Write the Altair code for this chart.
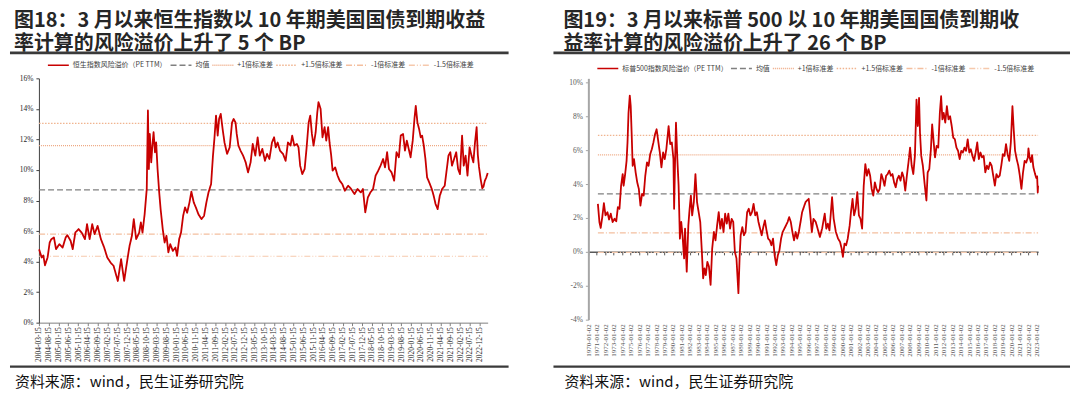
import altair as alt
import pandas as pd

# ---------------- text ----------------
HK_TITLE = ["图18：3 月以来恒生指数以 10 年期美国国债到期收益", "率计算的风险溢价上升了 5 个 BP"]
SPX_TITLE = ["图19：3 月以来标普 500 以 10 年期美国国债到期收", "益率计算的风险溢价上升了 26 个 BP"]
SOURCE = "资料来源：wind，民生证券研究院"
HK_NAME = "恒生指数风险溢价（PE TTM）"
SPX_NAME = "标普500指数风险溢价（PE TTM）"
REF_NAMES = ["均值", "+1倍标准差", "+1.5倍标准差", "-1倍标准差", "-1.5倍标准差"]

# ---------------- reference levels (%) ----------------
HK_REF = [8.7, 11.6, 13.05, 5.8, 4.35]
SPX_REF = [3.42, 5.72, 6.87, 1.12, -0.03]

# ---------------- tick labels ----------------
HK_YTICKS = [0, 2, 4, 6, 8, 10, 12, 14, 16]
SPX_YTICKS = [-4, -2, 0, 2, 4, 6, 8, 10]
HK_XTICKS = [(2004 + (2 + 5 * k) // 12, (2 + 5 * k) % 12 + 1, 15) for k in range(46)]
SPX_XTICKS = [(y, 1, 2) for y in range(1970, 2024)]

# ---------------- series (decimal year, %) ----------------
HK_POINTS = [
    (2004.21, 4.8), (2004.32, 4.27), (2004.39, 4.4), (2004.46, 3.76), (2004.57, 4.27), (2004.66, 5.25),
    (2004.73, 5.47), (2004.84, 5.58), (2004.93, 4.81), (2005.07, 5.14), (2005.21, 4.92), (2005.34, 5.58),
    (2005.41, 5.73), (2005.55, 5.36), (2005.64, 4.81), (2005.75, 5.9), (2005.89, 6.13), (2006.02, 5.9),
    (2006.16, 5.47), (2006.25, 6.45), (2006.36, 5.47), (2006.47, 6.45), (2006.57, 5.8), (2006.70, 6.34),
    (2006.84, 5.47), (2006.98, 4.92), (2007.11, 4.27), (2007.25, 3.94), (2007.38, 3.72), (2007.56, 2.73),
    (2007.70, 4.16), (2007.83, 2.73), (2007.97, 4.16), (2008.06, 5.03), (2008.16, 5.69), (2008.24, 6.78),
    (2008.34, 5.47), (2008.47, 5.9), (2008.54, 6.56), (2008.61, 5.9), (2008.70, 7.1), (2008.79, 8.75),
    (2008.84, 13.9), (2008.88, 10.06), (2008.92, 12.36), (2008.98, 10.5), (2009.03, 11.6), (2009.08, 12.47),
    (2009.14, 11.16), (2009.19, 11.8), (2009.25, 10.06), (2009.32, 8.53), (2009.38, 7.44), (2009.47, 6.13),
    (2009.55, 5.25), (2009.63, 5.69), (2009.71, 4.6), (2009.79, 5.14), (2009.90, 4.7), (2010.01, 4.92),
    (2010.08, 4.375), (2010.17, 5.47), (2010.25, 5.9), (2010.34, 7.0), (2010.42, 7.55), (2010.51, 7.2),
    (2010.61, 7.88), (2010.69, 8.58), (2010.79, 7.88), (2010.88, 7.55), (2010.99, 7.1), (2011.12, 6.78),
    (2011.23, 7.0), (2011.33, 7.88), (2011.42, 8.53), (2011.53, 9.08), (2011.61, 10.94), (2011.67, 12.03),
    (2011.74, 13.56), (2011.81, 12.25), (2011.87, 13.34), (2011.94, 13.67), (2012.02, 12.69), (2012.10, 11.8),
    (2012.21, 11.05), (2012.32, 11.48), (2012.42, 13.1), (2012.49, 13.34), (2012.57, 13.1), (2012.62, 12.36),
    (2012.69, 11.6), (2012.78, 11.27), (2012.89, 10.94), (2013.00, 10.5), (2013.10, 9.84), (2013.21, 10.5),
    (2013.30, 11.7), (2013.41, 10.94), (2013.51, 12.14), (2013.60, 10.94), (2013.71, 11.38), (2013.82, 10.6),
    (2013.91, 11.05), (2014.01, 10.72), (2014.12, 11.8), (2014.21, 12.14), (2014.28, 11.48), (2014.36, 11.8),
    (2014.46, 11.27), (2014.59, 11.05), (2014.70, 10.6), (2014.80, 11.8), (2014.91, 11.6), (2014.98, 12.25),
    (2015.07, 11.6), (2015.18, 11.7), (2015.25, 11.48), (2015.32, 10.28), (2015.41, 9.73), (2015.51, 10.06),
    (2015.59, 11.38), (2015.68, 13.1), (2015.75, 13.56), (2015.82, 12.36), (2015.89, 11.6), (2015.98, 12.47),
    (2016.05, 13.78), (2016.10, 14.44), (2016.19, 14.0), (2016.27, 12.14), (2016.36, 12.8), (2016.43, 11.92),
    (2016.51, 12.8), (2016.57, 11.8), (2016.64, 10.94), (2016.70, 9.95), (2016.81, 10.17), (2016.91, 9.63),
    (2017.00, 9.3), (2017.11, 9.08), (2017.22, 8.64), (2017.36, 8.97), (2017.49, 8.75), (2017.63, 8.42),
    (2017.76, 8.75), (2017.90, 8.53), (2017.99, 8.75), (2018.09, 7.22), (2018.20, 8.2), (2018.31, 8.53),
    (2018.42, 8.75), (2018.53, 9.63), (2018.64, 9.95), (2018.74, 10.28), (2018.85, 10.72), (2018.93, 10.17),
    (2019.02, 11.16), (2019.10, 10.06), (2019.21, 9.84), (2019.32, 9.3), (2019.42, 11.16), (2019.52, 10.83),
    (2019.60, 12.25), (2019.70, 12.36), (2019.78, 11.27), (2019.86, 11.92), (2019.94, 11.38), (2020.02, 10.83),
    (2020.11, 11.92), (2020.19, 13.45), (2020.24, 14.2), (2020.31, 13.1), (2020.38, 12.69), (2020.45, 12.14),
    (2020.51, 12.25), (2020.58, 11.6), (2020.65, 10.72), (2020.72, 9.52), (2020.81, 9.19), (2020.92, 8.75),
    (2021.00, 8.31), (2021.08, 7.77), (2021.17, 7.44), (2021.26, 8.31), (2021.36, 8.75), (2021.47, 8.97),
    (2021.55, 9.95), (2021.63, 10.94), (2021.71, 11.16), (2021.78, 10.28), (2021.87, 10.72), (2021.96, 11.16),
    (2022.04, 10.06), (2022.12, 9.73), (2022.21, 12.25), (2022.28, 10.28), (2022.36, 10.94), (2022.44, 9.63),
    (2022.53, 11.48), (2022.61, 10.94), (2022.69, 10.5), (2022.76, 11.8), (2022.83, 12.8), (2022.88, 11.0),
    (2022.93, 10.2), (2023.00, 9.4), (2023.07, 8.8), (2023.12, 8.9), (2023.18, 9.3), (2023.24, 9.5),
    (2023.30, 9.8),
]

SPX_POINTS = [
    (1971.13, 2.83), (1971.31, 1.76), (1971.46, 1.41), (1971.65, 2.05), (1971.84, 2.87), (1972.03, 2.15),
    (1972.26, 2.34), (1972.45, 1.91), (1972.65, 2.25), (1972.87, 1.76), (1973.10, 1.95), (1973.30, 1.8),
    (1973.49, 2.64), (1973.68, 2.54), (1973.87, 3.9), (1974.06, 4.59), (1974.17, 3.9), (1974.33, 4.49),
    (1974.52, 5.37), (1974.63, 6.45), (1974.75, 8.2), (1974.90, 9.22), (1975.01, 8.59), (1975.13, 6.84),
    (1975.24, 5.08), (1975.40, 5.47), (1975.59, 4.69), (1975.78, 4.1), (1975.97, 3.71), (1976.16, 2.73),
    (1976.35, 3.42), (1976.54, 3.32), (1976.73, 4.49), (1976.93, 5.27), (1977.12, 5.08), (1977.31, 5.76),
    (1977.50, 6.05), (1977.69, 6.45), (1977.88, 6.93), (1978.07, 7.23), (1978.26, 6.54), (1978.45, 5.86),
    (1978.64, 4.98), (1978.84, 5.86), (1979.03, 5.47), (1979.22, 6.05), (1979.49, 7.42), (1979.68, 6.35),
    (1979.87, 6.45), (1980.06, 5.47), (1980.14, 2.54), (1980.25, 5.27), (1980.36, 7.62), (1980.52, 5.47),
    (1980.67, 3.9), (1980.82, 0.78), (1980.98, 1.76), (1981.13, 0.98), (1981.32, -0.39), (1981.43, 1.37),
    (1981.63, -1.17), (1981.82, 1.56), (1981.97, 2.54), (1982.12, 3.32), (1982.27, 2.15), (1982.47, 2.93),
    (1982.66, 4.59), (1982.85, 2.93), (1983.04, 2.34), (1983.23, 1.76), (1983.42, 0.0), (1983.57, -1.56),
    (1983.73, -0.98), (1983.88, -1.37), (1984.07, -0.59), (1984.26, -0.88), (1984.45, -1.95), (1984.64, 0.2),
    (1984.84, 1.17), (1985.03, 0.68), (1985.22, 1.56), (1985.41, 2.34), (1985.60, 1.37), (1985.79, 1.95),
    (1985.98, 1.17), (1986.17, 2.25), (1986.36, 1.66), (1986.55, 2.25), (1986.75, 1.37), (1986.94, 1.95),
    (1987.13, 1.76), (1987.32, 0.0), (1987.51, -0.39), (1987.62, -1.37), (1987.74, -2.44), (1987.89, -0.2),
    (1988.01, 0.98), (1988.20, 1.46), (1988.39, 0.98), (1988.58, 1.17), (1988.77, 2.34), (1988.96, 2.54),
    (1989.15, 2.15), (1989.34, 2.34), (1989.53, 2.83), (1989.73, 2.15), (1989.92, 2.34), (1990.11, 1.76),
    (1990.30, 1.37), (1990.49, 0.98), (1990.68, 1.46), (1990.87, 1.86), (1991.06, 1.27), (1991.25, 0.78),
    (1991.45, 0.68), (1991.64, 0.39), (1991.83, 0.78), (1992.02, -0.2), (1992.21, -0.78), (1992.40, -0.2),
    (1992.59, 0.1), (1992.78, 0.78), (1992.97, 1.17), (1993.17, 1.37), (1993.36, 1.56), (1993.55, 1.76),
    (1993.74, 2.05), (1993.93, 1.76), (1994.12, 1.17), (1994.31, 0.68), (1994.50, 1.17), (1994.69, 0.78),
    (1994.88, 1.17), (1995.08, 1.76), (1995.27, 2.34), (1995.67, 2.93), (1996.05, 3.13), (1996.24, 2.15),
    (1996.42, 1.17), (1996.61, 1.95), (1996.88, 1.76), (1997.10, 1.37), (1997.37, 0.88), (1997.63, 1.37),
    (1997.94, 2.25), (1998.13, 1.37), (1998.31, 1.66), (1998.50, 1.27), (1998.81, 3.22), (1999.00, 1.95),
    (1999.26, 1.17), (1999.52, 0.78), (1999.75, 0.59), (1999.94, 0.2), (2000.09, -0.29), (2000.28, 0.49),
    (2000.47, 0.39), (2000.66, 0.78), (2000.89, 1.56), (2001.04, 2.34), (2001.23, 3.13), (2001.41, 2.15),
    (2001.60, 2.54), (2001.79, 3.52), (2001.98, 2.15), (2002.17, 1.95), (2002.36, 1.37), (2002.55, 3.9),
    (2002.74, 5.18), (2002.93, 4.49), (2003.12, 4.88), (2003.31, 4.49), (2003.49, 3.71), (2003.68, 3.32),
    (2003.87, 4.1), (2004.06, 3.71), (2004.25, 3.52), (2004.44, 3.71), (2004.63, 4.59), (2004.82, 4.3),
    (2005.01, 3.9), (2005.20, 4.49), (2005.38, 4.59), (2005.57, 4.79), (2005.76, 4.49), (2005.95, 4.59),
    (2006.14, 4.1), (2006.33, 3.81), (2006.52, 4.3), (2006.71, 4.49), (2006.90, 4.2), (2007.09, 4.69),
    (2007.27, 4.39), (2007.46, 3.61), (2007.65, 4.49), (2007.84, 5.27), (2008.03, 6.15), (2008.22, 5.08),
    (2008.41, 4.59), (2008.60, 5.66), (2008.79, 8.98), (2008.94, 7.42), (2009.09, 9.08), (2009.20, 7.03),
    (2009.35, 5.66), (2009.54, 5.08), (2009.73, 4.1), (2009.96, 3.03), (2010.11, 4.69), (2010.30, 4.88),
    (2010.49, 6.05), (2010.64, 7.52), (2010.79, 6.64), (2010.98, 5.57), (2011.17, 6.25), (2011.36, 6.15),
    (2011.55, 8.2), (2011.70, 9.18), (2011.85, 7.81), (2012.00, 8.2), (2012.19, 7.62), (2012.38, 8.59),
    (2012.57, 7.81), (2012.76, 8.0), (2012.95, 7.42), (2013.13, 6.74), (2013.32, 6.64), (2013.51, 6.15),
    (2013.70, 5.96), (2013.89, 5.47), (2014.08, 5.96), (2014.27, 5.86), (2014.46, 6.15), (2014.65, 5.96),
    (2014.84, 6.64), (2015.03, 5.86), (2015.21, 6.05), (2015.40, 5.66), (2015.59, 5.37), (2015.78, 5.86),
    (2015.97, 6.45), (2016.16, 5.47), (2016.35, 5.86), (2016.54, 5.57), (2016.73, 5.66), (2016.92, 4.69),
    (2017.11, 5.08), (2017.29, 4.88), (2017.48, 5.27), (2017.67, 5.08), (2017.86, 4.49), (2018.05, 3.91),
    (2018.24, 4.59), (2018.43, 4.39), (2018.62, 4.49), (2018.81, 5.08), (2019.00, 5.76), (2019.19, 5.66),
    (2019.37, 6.35), (2019.56, 5.76), (2019.75, 5.37), (2019.94, 6.45), (2020.13, 8.59), (2020.29, 7.13),
    (2020.44, 5.96), (2020.63, 5.47), (2020.82, 5.08), (2021.00, 4.49), (2021.19, 3.71), (2021.38, 4.69),
    (2021.57, 5.37), (2021.76, 5.27), (2021.95, 5.57), (2022.02, 6.1), (2022.15, 5.6), (2022.30, 5.3),
    (2022.45, 5.7), (2022.60, 5.0), (2022.80, 4.6), (2022.95, 4.35), (2023.05, 4.45), (2023.12, 3.5),
    (2023.16, 3.9),
]

# ---------------- styles ----------------
CJK = "Noto Sans CJK SC"
SERIF = "Liberation Serif"
SERIES_COLOR = "#c80000"
REF_COLORS = ["#808080", "#eea882", "#f0b48f", "#f4bf9f", "#f6c9ad"]
REF_DASHES = [[6, 3], [1, 1], [1.5, 1.5], [6, 2, 1, 2], [6, 2, 1, 2, 1, 2]]


def to_date(y):
    yr = int(y)
    a = pd.Timestamp(year=yr, month=1, day=1)
    b = pd.Timestamp(year=yr + 1, month=1, day=1)
    return a + (b - a) * (y - yr)


def dt(t):
    return alt.DateTime(year=t[0], month=t[1], date=t[2])


ONE = pd.DataFrame({"k": [0]})


def text_layer(txt, x, y, size, weight="normal", color="#1a1a1a"):
    return alt.Chart(ONE).mark_text(
        align="left", baseline="alphabetic", font=CJK, fontSize=size,
        fontWeight=weight, color=color
    ).encode(x=alt.value(x), y=alt.value(y), text=alt.value(txt))


def hrule(x1, x2, y, w, color="#3a3a3a"):
    return alt.Chart(ONE).mark_rule(color=color, strokeWidth=w).encode(
        x=alt.value(x1), x2=alt.value(x2), y=alt.value(y))


def panel(points, name, ref_vals, x_dom, y_dom, width, height, x_axis, y_axis,
          legend_x, legend_y, titles, rule_x1, rule_x2, text_x, frame=False):
    df = pd.DataFrame(points, columns=["yr", "value"])
    df["date"] = df["yr"].map(to_date)
    df["name"] = name
    refs = pd.DataFrame({"name": REF_NAMES, "value": ref_vals})
    refs["start"] = df["date"].iloc[0]
    refs["end"] = df["date"].iloc[-1]

    domain = [name] + REF_NAMES
    legend = alt.Legend(
        title=None, orient="none", legendX=legend_x, legendY=legend_y,
        direction="horizontal", symbolType="stroke", symbolSize=441,
        symbolStrokeWidth=1.5, labelFont=CJK, labelFontSize=7, labelColor="#404040",
        columnPadding=0, labelOffset=3, padding=0, labelLimit=300,
    )
    color = alt.Color("name:N", scale=alt.Scale(domain=domain, range=[SERIES_COLOR] + REF_COLORS),
                      legend=legend)
    dash = alt.StrokeDash("name:N", scale=alt.Scale(domain=domain, range=[[1, 0]] + REF_DASHES),
                          legend=legend)
    xscale = alt.Scale(domain=[dt(x_dom[0]), dt(x_dom[1])])
    yscale = alt.Scale(domain=y_dom, nice=False, zero=False)

    rules = alt.Chart(refs).mark_rule(strokeWidth=1.2).encode(
        x=alt.X("start:T", scale=xscale, axis=x_axis),
        x2="end:T",
        y=alt.Y("value:Q", scale=yscale, axis=y_axis),
        color=color, strokeDash=dash,
    )
    line = alt.Chart(df).mark_line(strokeWidth=1.8, strokeJoin="round").encode(
        x=alt.X("date:T", scale=xscale, axis=x_axis),
        y=alt.Y("value:Q", scale=yscale, axis=y_axis),
        color=color, strokeDash=dash,
    )
    layers = []
    if frame:
        layers.append(alt.Chart(ONE).mark_rect(opacity=0).encode(
            x=alt.value(-29), x2=alt.value(1035), y=alt.value(-69), y2=alt.value(306)))
    layers += [
        rules, line,
        text_layer(titles[0], text_x, -51.5, 20, "bold", "#262626"),
        text_layer(titles[1], text_x, -28.5, 20, "bold", "#262626"),
        hrule(rule_x1, rule_x2, -25.5, 2.6),
        hrule(rule_x1, rule_x2, 289, 2.2),
        text_layer(SOURCE, text_x + 1, 310, 15, "normal", "#111111"),
    ]
    return alt.layer(*layers).properties(width=width, height=height)


hk_x_axis = alt.Axis(
    values=[dt(t) for t in HK_XTICKS], format="%Y-%m-%d", labelAngle=-90,
    labelFont=SERIF, labelFontSize=7.5, labelColor="#262626", labelPadding=1,
    labelOverlap=False, labelFlush=False, labelBound=False,
    tickSize=3, tickColor="#808080", domainColor="#808080", domainWidth=1,
    grid=False, title=None,
)
hk_y_axis = alt.Axis(
    values=HK_YTICKS, labelExpr="datum.value + '%'", labelFont=SERIF, labelFontSize=7.5,
    labelColor="#262626", labelPadding=3, tickSize=3, tickColor="#404040",
    domainColor="#404040", domainWidth=1, grid=False, title=None,
)
spx_x_axis = alt.Axis(
    values=[dt(t) for t in SPX_XTICKS], format="%Y-%m-%d", labelAngle=-90,
    labelFont=SERIF, labelFontSize=7, labelColor="#595959", labelPadding=69, offset=-68,
    labelOverlap=False, labelFlush=False, labelBound=False,
    tickSize=3, tickColor="#595959", domainColor="#595959", domainWidth=1.5,
    grid=False, title=None,
)
spx_y_axis = alt.Axis(
    values=SPX_YTICKS, labelExpr="datum.value + '%'", labelFont=SERIF, labelFontSize=7.5,
    labelColor="#595959", labelPadding=3, tickSize=3, tickColor="#a6a6a6",
    domainColor="#a6a6a6", domainWidth=2, grid=False, title=None,
)

left = panel(HK_POINTS, HK_NAME, HK_REF, [(2004, 3, 15), (2023, 4, 20)], [0, 16], 450, 245,
             hk_x_axis, hk_y_axis, 8, -25, HK_TITLE, -29, 471, -25, frame=True)
right = panel(SPX_POINTS, SPX_NAME, SPX_REF, [(1970, 1, 2), (2023, 3, 1)], [-4, 10.235], 451, 242,
              spx_x_axis, spx_y_axis, 8, -21.5, SPX_TITLE, -35, 483, -25)

chart = alt.hconcat(left, right, spacing=101, bounds="flush").resolve_scale(
    color="independent", strokeDash="independent", x="independent", y="independent"
).resolve_legend(color="independent", strokeDash="independent").properties(
    padding=0
).configure_view(stroke="transparent")

chart.save("out.html", embed_options={"renderer": "svg", "actions": False})
